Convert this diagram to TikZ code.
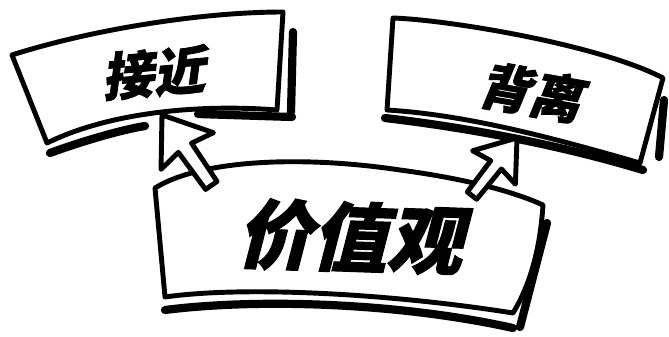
\documentclass[tikz,border=0pt]{standalone}
\usepackage{fontspec}
\newfontfamily\cjk[FakeSlant=0.22, BoldFeatures={FakeBold=1.5}]{Noto Sans CJK SC}

\tikzset{
  cursor/.pic={
    \draw[sketch, fill=white] (0,0) -- (-32,44) -- (-8,40) -- (-7,86) -- (7,86) -- (8,40) -- (32,44) -- cycle;
  }
}

\begin{document}
\begin{tikzpicture}[x=0.03cm, y=-0.03cm,
    sketch/.style={line width=4.2pt, line cap=round, line join=round},
    shadowline/.style={line width=7pt, line cap=round},
    word/.style={font=\cjk\bfseries\fontsize{#1}{#1}\selectfont, inner sep=0pt}]
  \useasboundingbox (0,0) rectangle (669,337);

  % 枠を描く
  \draw[sketch, fill=white] (12,55) .. controls (90,30) and (200,12) .. (283,12) -- (277,110)
    .. controls (200,104) and (110,112) .. (47,143) -- cycle;
  \draw[shadowline] (50,153) .. controls (80,142) and (120,130) .. (145,126);
  \draw[shadowline] (198,114) -- (292,117);
  \draw[shadowline] (293,32) -- (291,112);

  \draw[sketch, fill=white] (393,18) .. controls (450,20) and (600,45) .. (663,78) -- (640,163)
    .. controls (560,140) and (470,115) .. (387,110) -- cycle;
  \draw[shadowline] (385,118) .. controls (470,128) and (560,145) .. (643,170);
  \draw[shadowline] (664,100) -- (659,157);

  \draw[sketch, fill=white] (155,188) .. controls (200,160) and (300,155) .. (400,170)
    .. controls (460,178) and (510,190) .. (543,205)
    .. controls (540,250) and (530,285) .. (513,313)
    .. controls (400,295) and (250,285) .. (165,297) -- cycle;
  \draw[shadowline] (165,310) .. controls (260,298) and (400,303) .. (513,328);
  \draw[shadowline] (547,223) -- (520,327);

  % 矢印
  \coordinate (tipL) at (162,115);
  \coordinate (tipR) at (517,138);
  \pic[rotate=35] at (tipL) {cursor};
  \pic[rotate=-38, scale=0.85] at (tipR) {cursor};

  % 文字を入れる
  \node[word=44, rotate=5] (approach) at (153,73) {接近};
  \node[word=44, rotate=-10] (depart) at (530,92) {背离};
  \node[word=64, rotate=-2] (values) at (350,237) {价值观};
\end{tikzpicture}
\end{document}
